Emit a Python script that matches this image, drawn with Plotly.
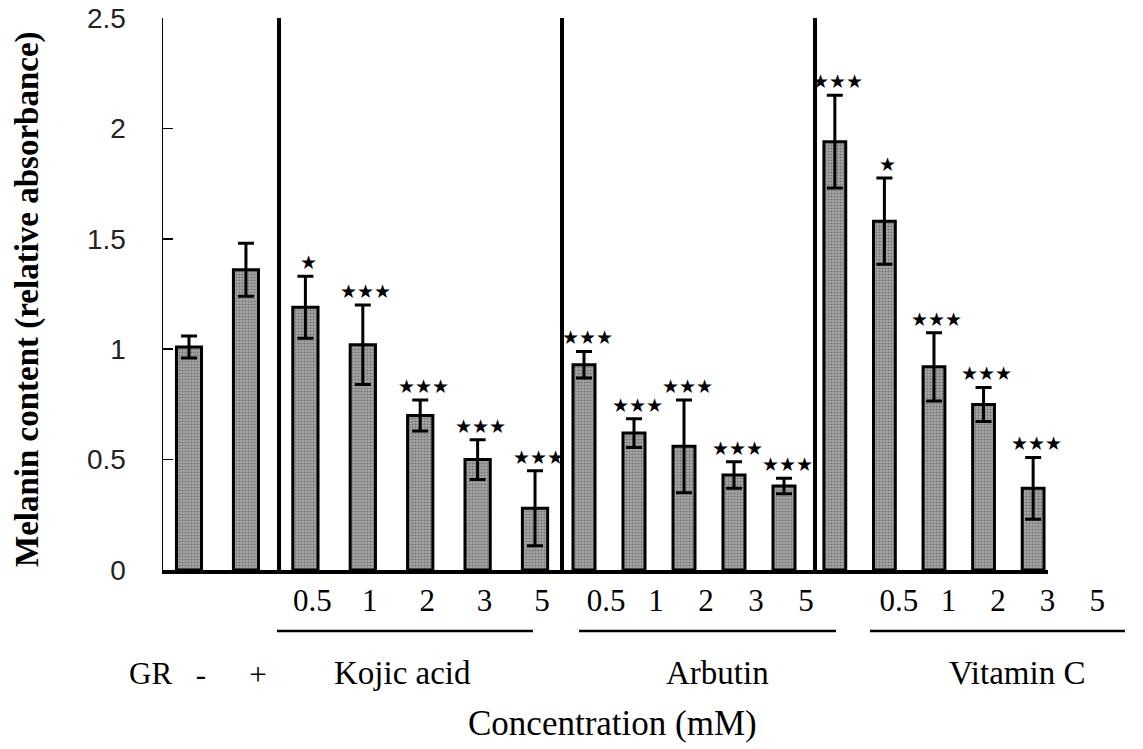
import plotly.graph_objects as go

# ---------------- data ----------------
ctrl_labels = ["-", "+"]
ctrl_vals = [1.01, 1.36]
ctrl_err = [0.05, 0.12]
ctrl_sig = [0, 0]

conc_labels = ["0.5", "1", "2", "3", "5"]

kojic_vals = [1.19, 1.02, 0.70, 0.50, 0.28]
kojic_err = [0.14, 0.18, 0.07, 0.09, 0.17]
kojic_sig = [1, 3, 3, 3, 3]

arbutin_vals = [0.93, 0.62, 0.56, 0.43, 0.38]
arbutin_err = [0.06, 0.065, 0.21, 0.06, 0.035]
arbutin_sig = [3, 3, 3, 3, 3]

vitc_vals = [1.94, 1.58, 0.92, 0.75, 0.37]
vitc_err = [0.21, 0.195, 0.155, 0.077, 0.14]
vitc_sig = [3, 1, 3, 3, 3]

group_names = ["Kojic acid", "Arbutin", "Vitamin C"]
y_ticks = [0, 0.5, 1, 1.5, 2, 2.5]
y_tick_text = ["0", "0.5", "1", "1.5", "2", "2.5"]

# ---------------- layout constants ----------------
W, H = 1143, 749
L, R, T, B = 163, 95, 18, 179
plot_w = W - L - R
px = lambda p: (p - L) / plot_w          # pixel -> paper x
py = lambda p: (H - B - p) / (H - T - B)  # pixel -> paper y

# panel boundaries (pixels)
bounds = [163, 279, 562, 815, 1048]
domains = [[px(bounds[i]), px(bounds[i + 1])] for i in range(4)]
ranges = [[-0.456, 1.58], [-0.46, 4.47], [-0.44, 4.62], [-0.40, 4.30]]
label_shift = [12, 7, 22, 64]

serif = "Liberation Serif"
bar_marker = dict(
    color="#a6a6a6",
    line=dict(color="black", width=3),
    pattern=dict(shape=".", fgcolor="#444444", size=3, solidity=0.4),
)

panels = [
    (ctrl_labels, ctrl_vals, ctrl_err, ctrl_sig),
    (conc_labels, kojic_vals, kojic_err, kojic_sig),
    (conc_labels, arbutin_vals, arbutin_err, arbutin_sig),
    (conc_labels, vitc_vals, vitc_err, vitc_sig),
]

fig = go.Figure()
annotations = []
for i, (cats, vals, errs, sigs) in enumerate(panels):
    xa = "x" if i == 0 else f"x{i+1}"
    fig.add_trace(go.Bar(
        x=cats, y=vals, xaxis=xa, yaxis="y",
        width=0.44,
        marker=bar_marker,
        error_y=dict(type="data", array=errs, visible=True,
                     color="black", thickness=3, width=8),
        showlegend=False, hoverinfo="skip",
    ))
    for j, (v, e, s) in enumerate(zip(vals, errs, sigs)):
        if s:
            annotations.append(dict(
                x=j, y=v + e, xref=xa, yref="y", text="★" * s,
                showarrow=False, yanchor="middle", yshift=14, xshift=3,
                font=dict(family="DejaVu Sans", size=19, color="black"),
            ))

layout_axes = {}
for i in range(4):
    name = "xaxis" if i == 0 else f"xaxis{i+1}"
    ax = dict(
        domain=domains[i], anchor="y", type="category",
        range=ranges[i], showgrid=False, zeroline=False, automargin=False,
        showline=True, linecolor="black", linewidth=3.5,
        ticks="", ticklabelshift=label_shift[i],
        tickfont=dict(family=serif, size=31, color="black"),
        ticklabelstandoff=0,
    )
    if i == 0:
        ax["ticklabelstandoff"] = 74
    layout_axes[name] = ax

fig.update_layout(
    width=W, height=H,
    margin=dict(l=L, r=R, t=T, b=B),
    paper_bgcolor="white", plot_bgcolor="white",
    bargap=0,
    yaxis=dict(
        domain=[0, 1], anchor="x", range=[0, 2.5], automargin=False,
        tickvals=y_ticks, ticktext=y_tick_text,
        showgrid=False, zeroline=False,
        showline=True, linecolor="black", linewidth=1.5,
        ticks="inside", ticklen=10, tickwidth=1.5, tickcolor="black",
        tickfont=dict(family="Liberation Sans", size=28, color="#222"),
        ticklabelstandoff=30,
    ),
    **layout_axes,
)

shapes = []
# thick separators between groups
for i in range(1, 4):
    xa = f"x{i+1}"
    shapes.append(dict(type="line", xref=f"{xa} domain", yref="paper",
                       x0=0, x1=0, y0=0, y1=1.0,
                       line=dict(color="black", width=4)))
# underlines below concentration labels
underline_px = [(277, 533), (579, 836), (870, 1125)]
for a, b in underline_px:
    shapes.append(dict(type="line", xref="paper", yref="paper",
                       x0=px(a), x1=px(b), y0=py(631), y1=py(631),
                       line=dict(color="black", width=2.5)))

# group labels
group_centers = [402, 717, 1017]
for name, cx in zip(group_names, group_centers):
    annotations.append(dict(
        x=px(cx), y=py(673), xref="paper", yref="paper", text=name,
        showarrow=False, xanchor="center", yanchor="middle",
        font=dict(family=serif, size=33, color="black"),
    ))
annotations.append(dict(
    x=px(174), y=py(673), xref="paper", yref="paper", text="GR",
    showarrow=False, xanchor="right", yanchor="middle",
    font=dict(family=serif, size=31, color="black"),
))
annotations.append(dict(
    x=px(612), y=py(723), xref="paper", yref="paper",
    text="Concentration (mM)", showarrow=False,
    xanchor="center", yanchor="middle",
    font=dict(family=serif, size=35, color="black"),
))
annotations.append(dict(
    x=px(28), y=py(299), xref="paper", yref="paper",
    text="<b>Melanin content (relative absorbance)</b>", textangle=-90,
    showarrow=False, xanchor="center", yanchor="middle",
    font=dict(family=serif, size=33, color="black"),
))

fig.update_layout(shapes=shapes, annotations=annotations)
fig.write_html(
    "out.html",
    config={"displayModeBar": False, "staticPlot": True},
    post_script="document.body.style.margin='0';document.body.style.overflow='hidden';",
)
